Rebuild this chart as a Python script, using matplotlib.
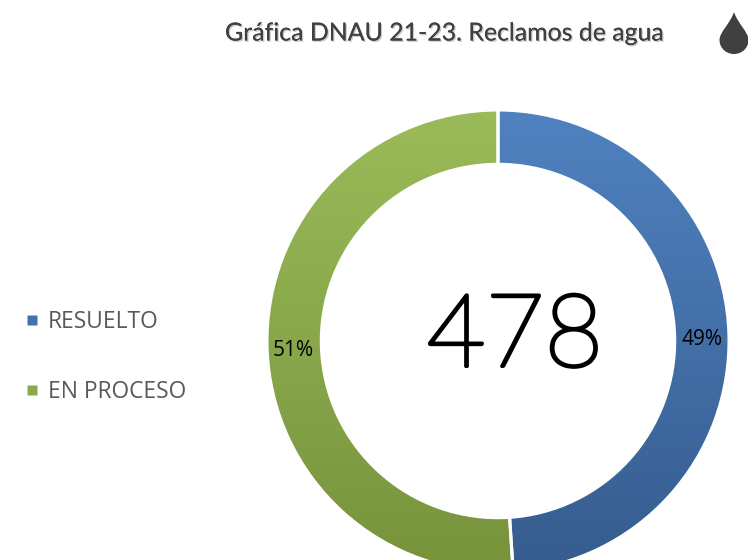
import numpy as np
import matplotlib
matplotlib.use("Agg")
import matplotlib.pyplot as plt
import matplotlib.patheffects as pe
from matplotlib.colors import LinearSegmentedColormap
from matplotlib.lines import Line2D
from matplotlib.patches import PathPatch
from matplotlib.path import Path

categories = ["RESUELTO", "EN PROCESO"]
values = [234, 244]
total_label = "478"
title = "Gráfica DNAU 21-23. Reclamos de agua"
top_colors = ["#5082C0", "#9BBB59"]
bottom_colors = ["#365C8E", "#76933C"]

W, H = 748, 560
fig = plt.figure(figsize=(W / 100, H / 100), dpi=100, facecolor="white")
left, top, size = 267, 110, 462
ax = fig.add_axes([left / W, (H - top - size) / H, size / W, size / H])

wedges, _, autotexts = ax.pie(
    values, startangle=90, counterclock=False, radius=1.0,
    autopct=lambda p: f"{p:.0f}%", pctdistance=0.885,
    wedgeprops=dict(width=0.235, facecolor="none", edgecolor="white", linewidth=2.2),
    textprops=dict(fontsize=15, family="Open Sans", color="black"),
)
ramp = np.linspace(0, 1, 256).reshape(-1, 1)
for w, c1, c2 in zip(wedges, top_colors, bottom_colors):
    cmap = LinearSegmentedColormap.from_list("g", [c1, c2])
    im = ax.imshow(ramp, cmap=cmap, extent=(-1, 1, -1, 1), aspect="auto", zorder=0.5, origin="upper")
    im.set_clip_path(w)
    w.set_zorder(1)
for t, dy in zip(autotexts, (-0.022, -0.013)):
    t.set_zorder(3)
    t.set_y(t.get_position()[1] + dy)
ax.set_xlim(-1, 1)
ax.set_ylim(-1, 1)
ax.axis("off")

fig.text(515 / W, 1 - 339 / H, total_label, ha="center", va="center", fontsize=73,
         family="Lato", fontweight="light", color="black",
         path_effects=[pe.withStroke(linewidth=2.6, foreground="black")])

fig.text(444 / W, 1 - 33 / H, title, ha="center", va="center", fontsize=17.9,
         family="Lato", color="#404040",
         path_effects=[pe.withSimplePatchShadow(offset=(1, -1), shadow_rgbFace="#808080", alpha=0.4), pe.Normal()])

# water drop icon in pixel coordinates of the figure
cx, tip, bot, r = 734, 12, 54, 14.5
verts = [(cx, tip), (cx - 4, 24), (cx - r, 32), (cx - r, 40),
         (cx - r, 48), (cx - 8, bot), (cx, bot),
         (cx + 8, bot), (cx + r, 48), (cx + r, 40),
         (cx + r, 32), (cx + 4, 24), (cx, tip), (cx, tip)]
codes = [Path.MOVETO] + [Path.CURVE4] * 12 + [Path.CLOSEPOLY]
drop = Path([(x / W, 1 - y / H) for x, y in verts], codes)
fig.add_artist(PathPatch(drop, facecolor="#404040", edgecolor="none", transform=fig.transFigure))

handles = [Line2D([], [], linestyle="none", marker="s", markersize=7.5,
                  markerfacecolor=c, markeredgecolor="none") for c in ["#4472A8", "#8BAA4C"]]
fig.legend(handles, categories, loc="center left", bbox_to_anchor=(21 / W, 1 - 357 / H),
           frameon=False, labelcolor="#595959", labelspacing=2.0, borderpad=0, borderaxespad=0,
           handlelength=1.0, handletextpad=0.18, prop=dict(family="Open Sans", size=16.4))

fig.savefig("out.png", dpi=100, facecolor="white")
